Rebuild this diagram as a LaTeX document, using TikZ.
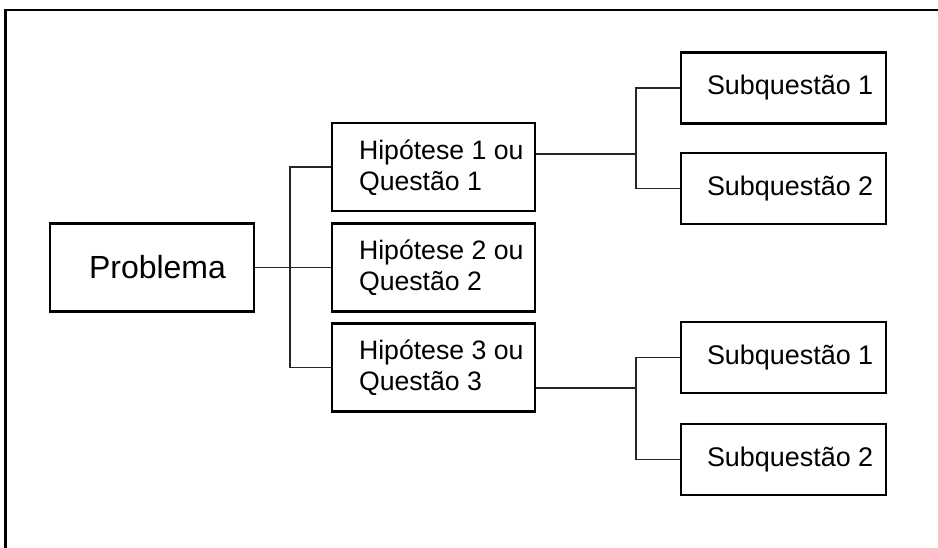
\documentclass[tikz,border=0pt]{standalone}
\usepackage{fontspec}
\setmainfont{Liberation Sans}
\begin{document}
\begin{tikzpicture}[x=0.75pt,y=-0.75pt,
  box/.style={draw=black,line width=1.9pt,minimum width=152.25pt,minimum height=66pt,inner sep=0pt},
  subbox/.style={draw=black,line width=1.9pt,minimum width=153.75pt,minimum height=53.25pt,inner sep=0pt},
  probbox/.style={draw=black,line width=1.9pt,minimum width=153pt,minimum height=66pt,inner sep=0pt},
  lbl/.style={anchor=west,inner sep=0pt,align=left,font=\fontsize{20}{23.3}\selectfont},
  sublbl/.style={anchor=west,inner sep=0pt,font=\fontsize{20.2}{24}\selectfont},
  problbl/.style={anchor=west,inner sep=0pt,font=\fontsize{24}{28}\selectfont},
  conn/.style={draw=black!85,line width=0.8pt}]
\useasboundingbox (0,0) rectangle (938,548);
% outer frame (right and bottom sides lie outside the picture)
\draw[line width=1.7pt] (938,10) -- (5.5,10) -- (5.5,548);
% boxes
\node[probbox] (p) at (152,267.5) {};
\node[box] (h1) at (433.5,167) {};
\node[box] (h2) at (433.5,267.5) {};
\node[box] (h3) at (433.5,367.5) {};
\node[subbox] (s11) at (783.5,88) {};
\node[subbox] (s12) at (783.5,188.5) {};
\node[subbox] (s21) at (783.5,357.5) {};
\node[subbox] (s22) at (783.5,459.5) {};
% texts
\node[problbl] (pt) at ([xshift=30pt]p.west) {Problema};
\node[lbl] (h1t) at ([xshift=21pt,yshift=-0.5pt]h1.west) {Hipótese 1 ou\\Questão 1};
\node[lbl] (h2t) at ([xshift=21pt,yshift=-0.5pt]h2.west) {Hipótese 2 ou\\Questão 2};
\node[lbl] (h3t) at ([xshift=21pt,yshift=-0.5pt]h3.west) {Hipótese 3 ou\\Questão 3};
\node[sublbl] (s11t) at ([xshift=20.25pt]s11.west) {Subquestão 1};
\node[sublbl] (s12t) at ([xshift=20.25pt]s12.west) {Subquestão 2};
\node[sublbl] (s21t) at ([xshift=20.25pt]s21.west) {Subquestão 1};
\node[sublbl] (s22t) at ([xshift=20.25pt]s22.west) {Subquestão 2};
% connector junctions
\coordinate (j) at (290,267);
\coordinate (b1) at (636,154);
\coordinate (b2) at (636,388);
% connectors
\draw[conn] (p.east) -- (h2.west);
\draw[conn] (h1.west) -- (h1.west -| j) -- (h3.west -| j) -- (h3.west);
\draw[conn] (h1.east |- b1) -- (b1);
\draw[conn] (s11.west) -| (b1) |- (s12.west);
\draw[conn] (h3.east |- b2) -- (b2);
\draw[conn] (s21.west) -| (b2) |- (s22.west);
\end{tikzpicture}
\end{document}
